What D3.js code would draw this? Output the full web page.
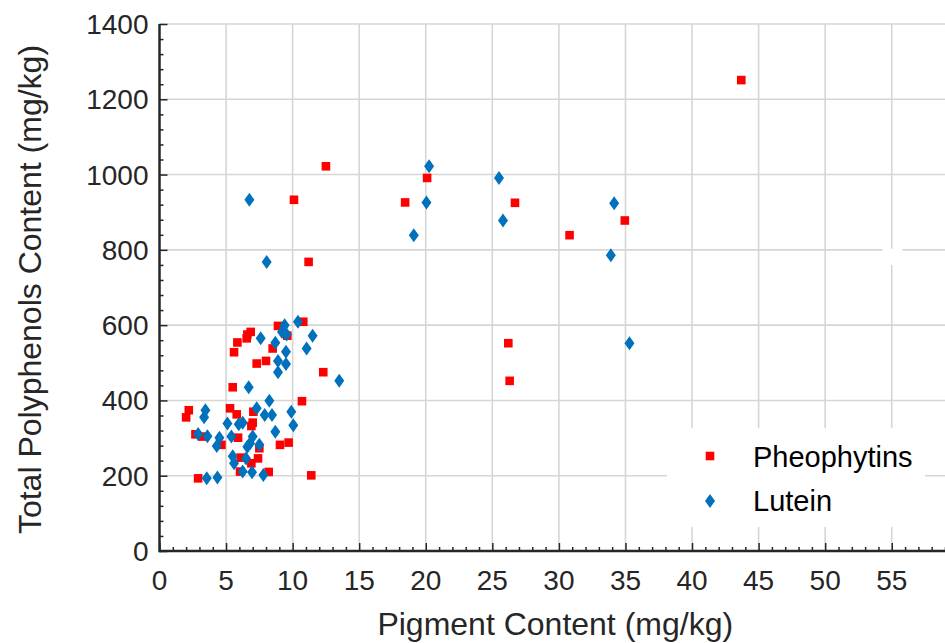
<!DOCTYPE html>
<html>
<head>
  <style>
    body {
      margin: 0;
      padding: 0;
      background: white;
      font-family: "Liberation Sans", Arial, sans-serif;
    }
    #chart { width: 945px; height: 643px; overflow: hidden; }
  </style>
</head>
<body>
  <div id="chart"></div>

  <script src="https://cdnjs.cloudflare.com/ajax/libs/d3/7.8.5/d3.min.js"></script>
  <script>
    // Pigment content (x) vs total polyphenols (y)
    const pheophytins = [
      [8.9, 598], [10.8, 609], [6.85, 582], [6.6, 575], [6.55, 565], [5.85, 554],
      [5.6, 528], [9.6, 572], [8.5, 538], [7.3, 498], [8.0, 505], [12.3, 475],
      [5.5, 435], [10.7, 398], [2.2, 374], [2.0, 355], [5.3, 379], [5.8, 363],
      [7.05, 370], [7.0, 341], [6.9, 332], [2.7, 310], [3.2, 304], [5.9, 301],
      [4.65, 282], [9.05, 282], [9.7, 288], [7.5, 273], [7.4, 246], [6.1, 248],
      [6.9, 233], [6.05, 211], [8.2, 210], [11.4, 201], [2.9, 193],
      [12.5, 1022], [10.1, 933], [11.2, 768], [20.1, 991], [18.45, 926],
      [26.7, 925], [30.8, 839], [34.95, 878], [26.2, 552], [26.3, 452], [43.7, 1251]
    ];
    const lutein = [
      [10.4, 609], [9.4, 600], [9.2, 582], [9.55, 575], [7.6, 565], [8.7, 553],
      [11.5, 572], [11.05, 538], [9.5, 529], [8.9, 505], [9.5, 497], [8.9, 475],
      [13.5, 452], [6.7, 435], [8.25, 399], [7.3, 379], [7.9, 361], [8.45, 361],
      [9.9, 370], [3.45, 374], [3.35, 355], [5.1, 339], [5.95, 337], [6.25, 341],
      [10.05, 334], [8.7, 317], [2.9, 311], [3.6, 305], [4.5, 301], [5.4, 304],
      [4.3, 279], [7.0, 304], [6.8, 286], [6.6, 277], [7.5, 282], [5.5, 252],
      [5.6, 233], [6.5, 246], [6.25, 211], [6.95, 209], [7.8, 202], [3.55, 193],
      [4.35, 195], [6.75, 933], [8.05, 768], [20.25, 1022], [20.05, 926],
      [19.1, 839], [25.5, 991], [25.8, 878], [34.15, 924], [33.9, 786], [35.3, 552]
    ];
    const xTicks = [0, 5, 10, 15, 20, 25, 30, 35, 40, 45, 50, 55];
    const yTicks = [0, 200, 400, 600, 800, 1000, 1200, 1400];
    const seriesNames = ['Pheophytins', 'Lutein'];

    const width = 945, height = 643;
    const margin = { top: 24, right: 0, bottom: 92, left: 159.5 };

    const svg = d3.select('#chart').append('svg')
      .attr('width', width)
      .attr('height', height);

    const x = d3.scaleLinear().domain([0, 59]).range([margin.left, width - margin.right]);
    const y = d3.scaleLinear().domain([0, 1400]).range([height - margin.bottom, margin.top]);

    // grid
    const grid = svg.append('g').attr('stroke', '#d6d6d6').attr('stroke-width', 1.6);
    grid.selectAll('.vg').data(xTicks.slice(1)).enter().append('line')
      .attr('x1', d => x(d)).attr('x2', d => x(d))
      .attr('y1', y(0)).attr('y2', y(1400));
    grid.selectAll('.hg').data(yTicks.slice(1)).enter().append('line')
      .attr('x1', x(0)).attr('x2', width)
      .attr('y1', d => y(d)).attr('y2', d => y(d));

    // stray empty text box from the original figure
    svg.append('rect')
      .attr('x', x(54.3)).attr('y', y(803))
      .attr('width', x(55.8) - x(54.3)).attr('height', y(760) - y(803))
      .attr('fill', 'white');

    // axes, ticks pointing inward
    const axisColor = '#262626';
    const xAxis = svg.append('g').attr('transform', `translate(0,${y(0)})`)
      .call(d3.axisTop(x).tickValues(d3.range(0, 60, 1)).tickSize(4).tickFormat(''));
    xAxis.select('.domain').remove();
    xAxis.selectAll('.tick line').attr('stroke', axisColor).attr('stroke-width', 1.5)
      .filter(d => d % 5 === 0).attr('y2', -8);

    svg.append('g').selectAll('text').data(xTicks).enter().append('text')
      .attr('x', d => x(d)).attr('y', y(0) + 39)
      .attr('text-anchor', 'middle')
      .attr('font-size', 28)
      .attr('fill', axisColor)
      .text(d => d);

    const yAxis = svg.append('g').attr('transform', `translate(${x(0)},0)`)
      .call(d3.axisRight(y).tickValues(d3.range(0, 1401, 40)).tickSize(4).tickFormat(''));
    yAxis.select('.domain').remove();
    yAxis.selectAll('.tick line').attr('stroke', axisColor).attr('stroke-width', 1.5)
      .filter(d => d % 200 === 0).attr('x2', 8);

    svg.append('g').selectAll('text').data(yTicks).enter().append('text')
      .attr('x', x(0) - 11).attr('y', d => y(d) + 10)
      .attr('text-anchor', 'end')
      .attr('font-size', 28)
      .attr('fill', axisColor)
      .text(d => d);

    svg.append('line')
      .attr('x1', x(0)).attr('x2', width)
      .attr('y1', y(0)).attr('y2', y(0))
      .attr('stroke', axisColor).attr('stroke-width', 2.5);
    svg.append('line')
      .attr('x1', x(0)).attr('x2', x(0))
      .attr('y1', y(0) + 1.2).attr('y2', y(1400))
      .attr('stroke', axisColor).attr('stroke-width', 2.5);

    // axis titles
    svg.append('text')
      .attr('x', (x(0) + width) / 2 + 3).attr('y', 635)
      .attr('text-anchor', 'middle')
      .attr('font-size', 32)
      .attr('fill', axisColor)
      .text('Pigment Content (mg/kg)');

    svg.append('text')
      .attr('transform', `translate(41,${(y(0) + y(1400)) / 2 + 2}) rotate(-90)`)
      .attr('text-anchor', 'middle')
      .attr('font-size', 32)
      .attr('fill', axisColor)
      .text('Total Polyphenols Content (mg/kg)');

    // markers
    const red = '#ff0000', blue = '#0072bd';
    const sq = 8.6;
    const diamond = 'M0,-7L5,0L0,7L-5,0Z';

    svg.append('g').selectAll('rect').data(pheophytins).enter().append('rect')
      .attr('x', d => x(d[0]) - sq / 2)
      .attr('y', d => y(d[1]) - sq / 2)
      .attr('width', sq).attr('height', sq)
      .attr('fill', red);

    svg.append('g').selectAll('path').data(lutein).enter().append('path')
      .attr('d', diamond)
      .attr('transform', d => `translate(${x(d[0])},${y(d[1])})`)
      .attr('fill', blue);

    // legend
    const legend = svg.append('g');
    legend.append('rect')
      .attr('x', 667).attr('y', 428).attr('width', 258).attr('height', 99)
      .attr('fill', 'white');
    legend.append('rect')
      .attr('x', 710 - sq / 2).attr('y', 456 - sq / 2)
      .attr('width', sq).attr('height', sq).attr('fill', red);
    legend.append('path')
      .attr('d', diamond)
      .attr('transform', 'translate(710,501)')
      .attr('fill', blue);
    legend.selectAll('text').data(seriesNames).enter().append('text')
      .attr('x', 753).attr('y', (d, i) => 467 + i * 44)
      .attr('font-size', 29)
      .attr('fill', '#000')
      .text(d => d);
  </script>
</body>
</html>
